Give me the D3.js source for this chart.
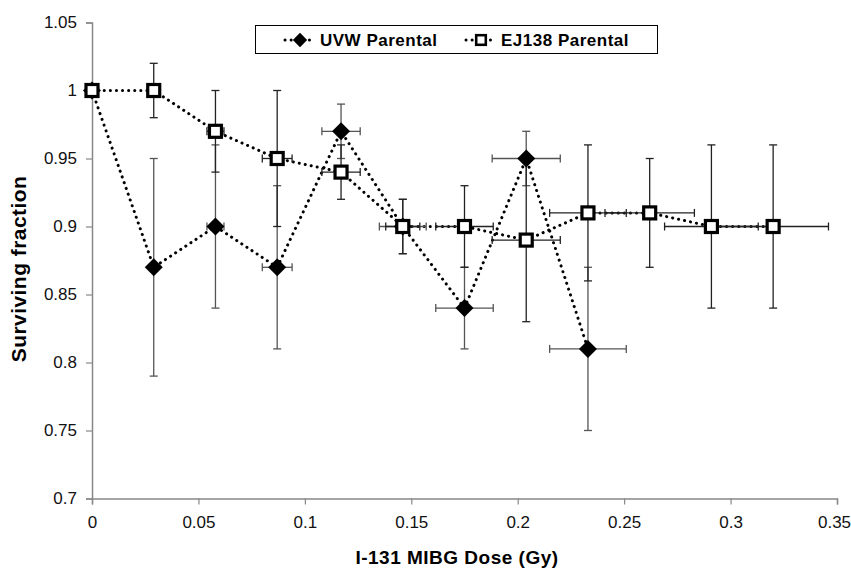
<!doctype html>
<html lang="en">
<head>
  <meta charset="UTF-8">
  <title>Surviving fraction</title>
  <script src="https://d3js.org/d3.v7.min.js" charset="utf-8"></script>
  <style>
    body { margin: 0; background: #fff; }
    text { font-family: "Liberation Sans", Arial, sans-serif; }
  </style>
</head>
<body>
  <script>

    // data
    var uvwDose  = [0, 0.029, 0.058, 0.087, 0.117, 0.146, 0.175, 0.204, 0.233];
    var uvwSF    = [1, 0.87, 0.90, 0.87, 0.97, 0.90, 0.84, 0.95, 0.81];
    var uvwYErr  = [0, 0.08, 0.06, 0.06, 0.02, 0.02, 0.03, 0.02, 0.06];
    var uvwXErr  = [0, 0.001, 0.004, 0.007, 0.009, 0.011, 0.0135, 0.016, 0.018];

    var ejDose   = [0, 0.029, 0.058, 0.087, 0.117, 0.146, 0.175, 0.204, 0.233, 0.262, 0.291, 0.320];
    var ejSF     = [1, 1.00, 0.97, 0.95, 0.94, 0.90, 0.90, 0.89, 0.91, 0.91, 0.90, 0.90];
    var ejYErr   = [0, 0.02, 0.03, 0.05, 0.02, 0.02, 0.03, 0.06, 0.05, 0.04, 0.06, 0.06];
    var ejXErr   = [0, 0.001, 0.004, 0.007, 0.009, 0.008, 0.0135, 0.016, 0.018, 0.021, 0.022, 0.026];

    var xTicks = [0, 0.05, 0.1, 0.15, 0.2, 0.25, 0.3, 0.35];
    var yTicks = [0.7, 0.75, 0.8, 0.85, 0.9, 0.95, 1, 1.05];

    var seriesNames = ["UVW Parental", "EJ138 Parental"];

    function rows (dose, sf, xe, ye) {
      return dose.map(function (d, i) {
        return { x: d, y: sf[i], xe: xe[i], ye: ye[i] };
      });
    }

    var uvw = rows(uvwDose, uvwSF, uvwXErr, uvwYErr)
      , ej  = rows(ejDose, ejSF, ejXErr, ejYErr)
      ;

    var width = 851, height = 575;

    var svg = d3.select("body").append("svg")
                .attr("width", width)
                .attr("height", height);

    var x = d3.scaleLinear().domain([0, 0.35]).range([92, 837]);
    var y = d3.scaleLinear().domain([0.7, 1.05]).range([498.5, 22.5]);

    var fmt = function (d) { return String(+d.toFixed(2)); };

    // axes
    var xAxis = svg.append("g")
                   .attr("transform", "translate(0," + y(0.7) + ")")
                   .call(d3.axisBottom(x).tickValues(xTicks).tickFormat(fmt).tickSize(6).tickPadding(11.5));

    var yAxis = svg.append("g")
                   .attr("transform", "translate(" + x(0) + ",0)")
                   .call(d3.axisLeft(y).tickValues(yTicks).tickFormat(fmt).tickSize(6).tickPadding(9));

    [xAxis, yAxis].forEach(function (g) {
      g.select(".domain").attr("stroke", "#888").attr("stroke-width", 1.5);
      g.selectAll(".tick line").attr("stroke", "#888").attr("stroke-width", 1.2);
      g.selectAll(".tick text").attr("fill", "#111").style("font-size", "17px")
       .style("font-family", "'Liberation Sans', Arial, sans-serif");
    });

    // last x label sits right at the page edge
    xAxis.selectAll(".tick text")
         .filter(function (d) { return d === 0.35; })
         .attr("dx", -3);

    // axis titles
    svg.append("text")
       .attr("x", 457)
       .attr("y", 564)
       .attr("text-anchor", "middle")
       .style("font-size", "19px")
       .style("font-weight", "bold")
       .style("letter-spacing", "0.5px")
       .text("I-131 MIBG Dose (Gy)");

    svg.append("text")
       .attr("transform", "translate(26,269) rotate(-90)")
       .attr("text-anchor", "middle")
       .style("font-size", "21px")
       .style("font-weight", "bold")
       .style("letter-spacing", "0.45px")
       .text("Surviving fraction");

    var line = d3.line()
                 .x(function (d) { return x(d.x); })
                 .y(function (d) { return y(d.y); });

    function drawLine (data) {
      svg.append("path")
         .datum(data)
         .attr("d", line)
         .attr("fill", "none")
         .attr("stroke", "#000")
         .attr("stroke-width", 3)
         .attr("stroke-linecap", "round")
         .attr("stroke-dasharray", "0.1,6");
    }

    function drawErrors (data, col) {
      var g = svg.append("g").attr("stroke", col).attr("stroke-width", 1.3);
      var withY = data.filter(function (d) { return d.ye > 0; });
      var withX = data.filter(function (d) { return d.xe > 0.002; });

      g.selectAll(".ev").data(withY).enter().append("line")
       .attr("x1", function (d) { return x(d.x); })
       .attr("x2", function (d) { return x(d.x); })
       .attr("y1", function (d) { return y(d.y + d.ye); })
       .attr("y2", function (d) { return y(d.y - d.ye); });

      [1, -1].forEach(function (s) {
        g.selectAll(".cap").data(withY).enter().append("line")
         .attr("x1", function (d) { return x(d.x) - 4; })
         .attr("x2", function (d) { return x(d.x) + 4; })
         .attr("y1", function (d) { return y(d.y + s * d.ye); })
         .attr("y2", function (d) { return y(d.y + s * d.ye); });
      });

      g.selectAll(".eh").data(withX).enter().append("line")
       .attr("x1", function (d) { return x(d.x - d.xe); })
       .attr("x2", function (d) { return x(d.x + d.xe); })
       .attr("y1", function (d) { return y(d.y); })
       .attr("y2", function (d) { return y(d.y); });

      [1, -1].forEach(function (s) {
        g.selectAll(".caph").data(withX).enter().append("line")
         .attr("x1", function (d) { return x(d.x + s * d.xe); })
         .attr("x2", function (d) { return x(d.x + s * d.xe); })
         .attr("y1", function (d) { return y(d.y) - 4; })
         .attr("y2", function (d) { return y(d.y) + 4; });
      });
    }

    function diamond (sel) {
      sel.append("path")
         .attr("d", "M0,-9L9,0L0,9L-9,0Z")
         .attr("fill", "#000");
    }

    function square (sel) {
      sel.append("rect")
         .attr("x", -6).attr("y", -6)
         .attr("width", 12).attr("height", 12)
         .attr("fill", "#fff")
         .attr("stroke", "#000")
         .attr("stroke-width", 3.2);
    }

    drawLine(uvw);
    drawLine(ej);
    drawErrors(uvw, "#555");
    drawErrors(ej, "#222");

    svg.selectAll(".uvw").data(uvw).enter().append("g")
       .attr("transform", function (d) { return "translate(" + x(d.x) + "," + y(d.y) + ")"; })
       .call(diamond);

    svg.selectAll(".ej").data(ej).enter().append("g")
       .attr("transform", function (d) { return "translate(" + x(d.x) + "," + y(d.y) + ")"; })
       .call(square);

    // legend
    var leg = svg.append("g");
    leg.append("rect")
       .attr("x", 255.5).attr("y", 25.5)
       .attr("width", 402).attr("height", 28)
       .attr("fill", "#fff")
       .attr("stroke", "#000")
       .attr("stroke-width", 1);

    var legItems = [
      { name: seriesNames[0], lx: 285, draw: diamond },
      { name: seriesNames[1], lx: 466, draw: square }
    ];

    legItems.forEach(function (it) {
      leg.append("path")
         .attr("d", "M" + it.lx + ",40H" + (it.lx + 30))
         .attr("stroke", "#000")
         .attr("stroke-width", 3)
         .attr("stroke-linecap", "round")
         .attr("stroke-dasharray", "0.1,6");
      leg.append("g")
         .attr("transform", "translate(" + (it.lx + 15) + ",40) scale(0.8)")
         .call(it.draw);
      leg.append("text")
         .attr("x", it.lx + 35)
         .attr("y", 46)
         .style("font-size", "17px")
         .style("font-weight", "bold")
         .style("letter-spacing", "0.5px")
         .text(it.name);
    });

  </script>
</body>
</html>
